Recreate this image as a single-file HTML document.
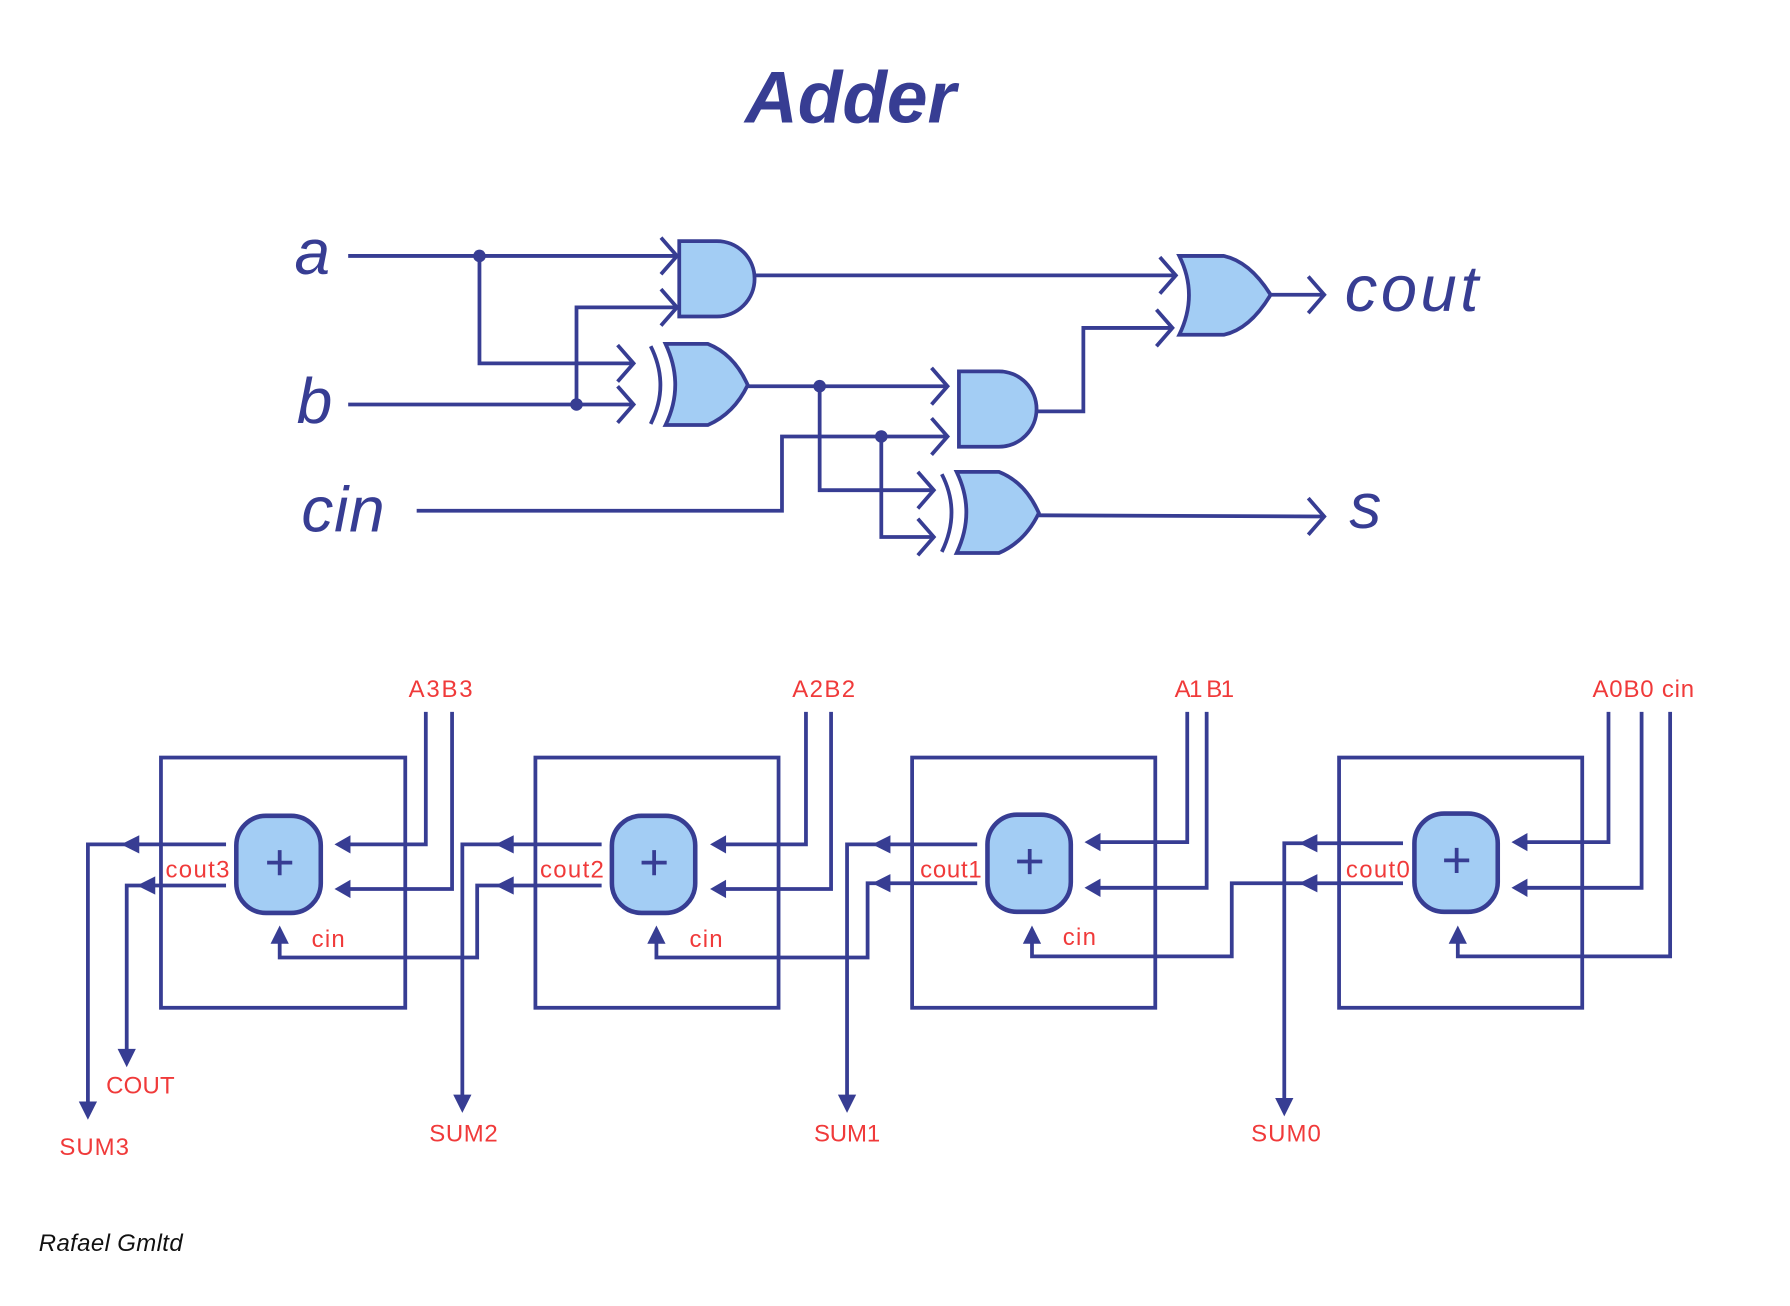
<!DOCTYPE html>
<html><head><meta charset="utf-8"><style>
html,body{margin:0;padding:0;background:#fff}
svg{display:block}
</style></head><body>
<svg width="1790" height="1306" viewBox="0 0 1568 1143" preserveAspectRatio="none" xmlns="http://www.w3.org/2000/svg">
<g fill="none" stroke="#373d93" stroke-width="3.3">
<path d="M305 224 H595"/>
<path d="M420 224 V318 H555"/>
<path d="M305 354 H555"/>
<path d="M505 354 V269 H595"/>
<path d="M662 241 H1030"/>
<path d="M655 338 H830"/>
<path d="M718 338 V429 H818"/>
<path d="M365 447 H685 V382 H830"/>
<path d="M772 382 V470 H818"/>
<path d="M908 360 H949 V287 H1027"/>
<path d="M1113 258 H1160"/>
<path d="M910 451 L1160 452"/>
<path d="M579 208 L593 224 L579 240 M579 253 L593 269 L579 285"/>
<path d="M541 302 L555 318 L541 334 M541 338 L555 354 L541 370"/>
<path d="M1016 225 L1030 241 L1016 257 M1013 271 L1027 287 L1013 303"/>
<path d="M816 322 L830 338 L816 354 M816 366 L830 382 L816 398"/>
<path d="M804 413 L818 429 L804 445 M804 454 L818 470 L804 486"/>
<path d="M1146 242 L1160 258 L1146 274 M1146 436 L1160 452 L1146 468"/>
<path d="M595 211 H628 A33 33 0 0 1 628 277 H595 Z" fill="#a3cdf4"/>
<path d="M840 325 H875 A33 33 0 0 1 875 391 H840 Z" fill="#a3cdf4"/>
<path d="M1033 224 Q1050 258 1033 293 H1072 Q1095 288 1113 258 Q1095 229 1072 224 Z" fill="#a3cdf4"/>
<path d="M583 301 Q600 337 583 372 H620 Q643 362 655 337 Q643 310 620 301 Z" fill="#a3cdf4"/>
<path d="M570 303 Q587 337 570 371"/>
<path d="M838 413 Q855 448 838 484 H875 Q898 474 910 449 Q898 422 875 413 Z" fill="#a3cdf4"/>
<path d="M825 415 Q842 448 825 483"/>
</g>
<g fill="#373d93">
<circle cx="420" cy="224" r="5.5"/><circle cx="505" cy="354" r="5.5"/>
<circle cx="718" cy="338" r="5.5"/><circle cx="772" cy="382" r="5.5"/>
</g>
<g font-family="Liberation Sans, sans-serif" font-style="italic" fill="#373d93">
<text x="745" y="107" font-size="64" font-weight="bold" text-anchor="middle">Adder</text>
<text x="258" y="240" font-size="56">a</text>
<text x="260" y="370" font-size="56">b</text>
<text x="264" y="465" font-size="56" textLength="73">cin</text>
<text x="1178" y="272" font-size="57" textLength="117">cout</text>
<text x="1182" y="462" font-size="56">s</text>
</g>
<g fill="none" stroke="#373d93" stroke-width="3.3">
<rect x="141" y="663" width="214" height="219"/>
<rect x="469" y="663" width="213" height="219"/>
<rect x="799" y="663" width="213" height="219"/>
<rect x="1173" y="663" width="213" height="219"/>
<rect x="207" y="714" width="74" height="85" rx="26" fill="#a3cdf4" stroke-width="4"/>
<rect x="536" y="714" width="73" height="85" rx="26" fill="#a3cdf4" stroke-width="4"/>
<rect x="865" y="713" width="73" height="85" rx="26" fill="#a3cdf4" stroke-width="4"/>
<rect x="1239" y="712" width="73" height="86" rx="26" fill="#a3cdf4" stroke-width="4"/>
<path d="M234 755 H256 M245 744 V766 M562 755 H584 M573 744 V766 M891 754 H913 M902 743 V765 M1265 753 H1287 M1276 742 V764"/>
<path d="M373 623 V739 H300 M396 623 V778 H300"/>
<path d="M706 623 V739 H630 M728 623 V778 H630"/>
<path d="M1040 623 V737 H958 M1057 623 V777 H958"/>
<path d="M1409 623 V737 H1332 M1438 623 V777 H1332 M1463 623 V837 H1277 V818"/>
<path d="M198 739 H77 V970 M198 775 H111 V925"/>
<path d="M527 739 H405 V965 M527 775 H418 V838 H245 V818"/>
<path d="M856 739 H742 V965 M856 773 H760 V838 H575 V818"/>
<path d="M1229 738 H1125 V968 M1229 773 H1079 V837 H904 V818"/>
</g>
<g fill="#373d93">
<path d="M293 739 l14 -8 v16z M293 778 l14 -8 v16z M622 739 l14 -8 v16z M622 778 l14 -8 v16z M950 737 l14 -8 v16z M950 777 l14 -8 v16z M1324 737 l14 -8 v16z M1324 777 l14 -8 v16z"/>
<path d="M106 739 l16 -8 v16z M120 775 l16 -8 v16z M434 739 l16 -8 v16z M434 775 l16 -8 v16z M764 739 l16 -8 v16z M764 773 l16 -8 v16z M1138 738 l16 -8 v16z M1138 773 l16 -8 v16z"/>
<path d="M245 810 l-8 16 h16z M575 810 l-8 16 h16z M904 810 l-8 16 h16z M1277 810 l-8 16 h16z"/>
<path d="M77 980 l-8 -16 h16z M111 934 l-8 -16 h16z M405 974 l-8 -16 h16z M742 974 l-8 -16 h16z M1125 977 l-8 -16 h16z"/>
</g>
<g font-family="Liberation Sans, sans-serif" font-size="21" fill="#f03a3a">
<text x="358" y="610" textLength="56">A3B3</text>
<text x="694" y="610" textLength="55">A2B2</text>
<text x="1029" y="610" textLength="52">A1 B1</text>
<text x="1395" y="610" textLength="89">A0B0 cin</text>
<text x="145" y="768" textLength="56">cout3</text>
<text x="473" y="768" textLength="56">cout2</text>
<text x="806" y="768" textLength="54">cout1</text>
<text x="1179" y="768" textLength="56">cout0</text>
<text x="273" y="829" textLength="29">cin</text>
<text x="604" y="829" textLength="29">cin</text>
<text x="931" y="827" textLength="29">cin</text>
<text x="93" y="957" textLength="60">COUT</text>
<text x="52" y="1011" textLength="61">SUM3</text>
<text x="376" y="999" textLength="60">SUM2</text>
<text x="713" y="999" textLength="58">SUM1</text>
<text x="1096" y="999" textLength="61">SUM0</text>
</g>
<text x="34" y="1095" font-family="Liberation Sans, sans-serif" font-style="italic" font-size="21" fill="#111" textLength="126">Rafael Gmltd</text>
</svg>
</body></html>
